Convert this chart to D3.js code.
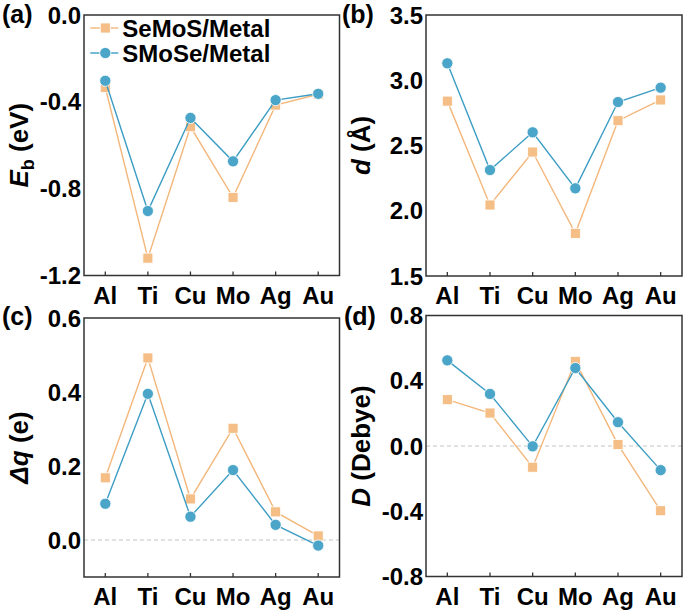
<!DOCTYPE html>
<html>
<head>
<meta charset="utf-8">
<script src="https://cdn.jsdelivr.net/npm/d3@7"></script>
<style>
  html, body { margin: 0; padding: 0; background: #fff; }
  svg { display: block; font-family: "Liberation Sans", Arial, sans-serif; font-weight: bold; }
</style>
</head>
<body>
<svg id="chart" width="685" height="613"></svg>
<script>
// ---- data ----
const categories = ["Al", "Ti", "Cu", "Mo", "Ag", "Au"];
const seriesNames = ["SeMoS/Metal", "SMoSe/Metal"];

const ebSeMoS = [-0.334, -1.12, -0.515, -0.84, -0.415, -0.365];
const ebSMoSe = [-0.303, -0.903, -0.474, -0.674, -0.392, -0.363];

const dSeMoS = [2.84, 2.044, 2.45, 1.827, 2.69, 2.849];
const dSMoSe = [3.13, 2.312, 2.601, 2.172, 2.833, 2.943];

const dqSeMoS = [0.168, 0.492, 0.111, 0.302, 0.076, 0.011];
const dqSMoSe = [0.098, 0.395, 0.063, 0.189, 0.041, -0.015];

const dipSeMoS = [0.284, 0.202, -0.13, 0.519, 0.009, -0.397];
const dipSMoSe = [0.525, 0.319, -0.002, 0.478, 0.146, -0.148];

const ebTicks = [0.0, -0.4, -0.8, -1.2];
const dTicks = [1.5, 2.0, 2.5, 3.0, 3.5];
const dqTicks = [0.0, 0.2, 0.4, 0.6];
const dipTicks = [-0.8, -0.4, 0.0, 0.4, 0.8];

const panelLabels = ["(a)", "(b)", "(c)", "(d)"];

// ---- styles ----
const orangeFill = "#F5BE86";
const orangeLine = "#F3B77C";
const blueFill = "#4AA5C8";
const blueLine = "#3C9DC3";
const frameColor = "#333";

const svg = d3.select("#chart");

const panels = [
  { label: panelLabels[0], s1: ebSeMoS, s2: ebSMoSe, domain: [-1.2, 0], ticks: ebTicks,
    x: [84, 339.5], y: [275.5, 15], title: "Eb", zero: false, legend: true, lab: [2, 23] },
  { label: panelLabels[1], s1: dSeMoS, s2: dSMoSe, domain: [1.5, 3.5], ticks: dTicks,
    x: [426, 682], y: [276, 15], title: "d", zero: false, legend: false, lab: [342, 23] },
  { label: panelLabels[2], s1: dqSeMoS, s2: dqSMoSe, domain: [-0.1, 0.6], ticks: dqTicks,
    x: [84, 339.5], y: [577, 318], title: "dq", zero: true, legend: false, lab: [2, 325] },
  { label: panelLabels[3], s1: dipSeMoS, s2: dipSMoSe, domain: [-0.8, 0.8], ticks: dipTicks,
    x: [426, 682], y: [576.5, 315.5], title: "D", zero: true, legend: false, lab: [344, 325] }
];

const fmt = v => (Math.abs(v) < 1e-9 ? 0 : v).toFixed(1);

panels.forEach(p => {
  const g = svg.append("g");
  const x = d3.scalePoint().domain(categories).range(p.x).padding(0.5);
  const y = d3.scaleLinear().domain(p.domain).range(p.y);
  const [x0, x1] = p.x;
  const [yb, yt] = p.y;

  // zero line
  if (p.zero) {
    g.append("line")
      .attr("x1", x0).attr("x2", x1)
      .attr("y1", y(0)).attr("y2", y(0))
      .attr("stroke", "#c4c4c4").attr("stroke-width", 1)
      .attr("stroke-dasharray", "4,3");
  }

  // frame
  g.append("rect")
    .attr("x", x0).attr("y", yt)
    .attr("width", x1 - x0).attr("height", yb - yt)
    .attr("fill", "none").attr("stroke", frameColor).attr("stroke-width", 1.5);

  // x ticks (inward)
  categories.forEach(c => {
    g.append("line")
      .attr("x1", x(c)).attr("x2", x(c))
      .attr("y1", yb).attr("y2", yb - 4)
      .attr("stroke", frameColor).attr("stroke-width", 1.3);
    g.append("text")
      .attr("x", x(c)).attr("y", yb + 28)
      .attr("text-anchor", "middle")
      .attr("font-size", 24)
      .attr("fill", "#000")
      .text(c);
  });

  // y tick labels
  p.ticks.forEach(t => {
    g.append("text")
      .attr("x", x0 - 3).attr("y", y(t))
      .attr("dy", "0.36em")
      .attr("text-anchor", "end")
      .attr("font-size", 24)
      .attr("fill", "#000")
      .text(fmt(t));
  });

  // y title
  const cy = (yb + yt) / 2;
  const tt = g.append("text")
    .attr("transform", `translate(${x0 - 56},${cy}) rotate(-90)`)
    .attr("text-anchor", "middle")
    .attr("font-size", 26)
    .attr("fill", "#000");
  if (p.title === "Eb") {
    tt.append("tspan").attr("font-style", "italic").text("E");
    tt.append("tspan").attr("font-size", 18).attr("dy", 6).text("b");
    tt.append("tspan").attr("dy", -6).text(" (eV)");
  } else if (p.title === "d") {
    tt.append("tspan").attr("font-style", "italic").text("d");
    tt.append("tspan").text(" (Å)");
  } else if (p.title === "dq") {
    tt.append("tspan").attr("font-style", "italic").text("Δq");
    tt.append("tspan").text(" (e)");
  } else {
    tt.append("tspan").attr("font-style", "italic").text("D");
    tt.append("tspan").text(" (Debye)");
  }

  // panel label
  g.append("text")
    .attr("x", p.lab[0]).attr("y", p.lab[1])
    .attr("font-size", 25).attr("fill", "#000")
    .text(p.label);

  // series
  const line = d3.line().x((d, i) => x(categories[i])).y(d => y(d));
  g.append("path").datum(p.s1)
    .attr("d", line).attr("fill", "none")
    .attr("stroke", orangeLine).attr("stroke-width", 1.4);
  g.selectAll(".sq").data(p.s1).enter().append("rect")
    .attr("x", (d, i) => x(categories[i]) - 5)
    .attr("y", d => y(d) - 5)
    .attr("width", 10).attr("height", 10)
    .attr("fill", orangeFill).attr("stroke", "#fff").attr("stroke-width", 0.8);

  g.append("path").datum(p.s2)
    .attr("d", line).attr("fill", "none")
    .attr("stroke", blueLine).attr("stroke-width", 1.4);
  g.selectAll(".ci").data(p.s2).enter().append("circle")
    .attr("cx", (d, i) => x(categories[i]))
    .attr("cy", d => y(d))
    .attr("r", 5.6)
    .attr("fill", blueFill).attr("stroke", "#fff").attr("stroke-width", 0.8);

  // legend
  if (p.legend) {
    const lx = x(categories[0]);
    const rows = [28, 53];
    seriesNames.forEach((name, k) => {
      const ly = rows[k];
      g.append("line")
        .attr("x1", lx - 15).attr("x2", lx + 13)
        .attr("y1", ly).attr("y2", ly)
        .attr("stroke", k === 0 ? orangeLine : blueLine).attr("stroke-width", 1.4);
      if (k === 0) {
        g.append("rect")
          .attr("x", lx - 5).attr("y", ly - 5).attr("width", 10).attr("height", 10)
          .attr("fill", orangeFill).attr("stroke", "#fff").attr("stroke-width", 0.8);
      } else {
        g.append("circle")
          .attr("cx", lx).attr("cy", ly).attr("r", 5.6)
          .attr("fill", blueFill).attr("stroke", "#fff").attr("stroke-width", 0.8);
      }
      g.append("text")
        .attr("x", lx + 17).attr("y", ly)
        .attr("dy", "0.36em")
        .attr("font-size", 24).attr("fill", "#000")
        .text(name);
    });
  }
});
</script>
</body>
</html>
